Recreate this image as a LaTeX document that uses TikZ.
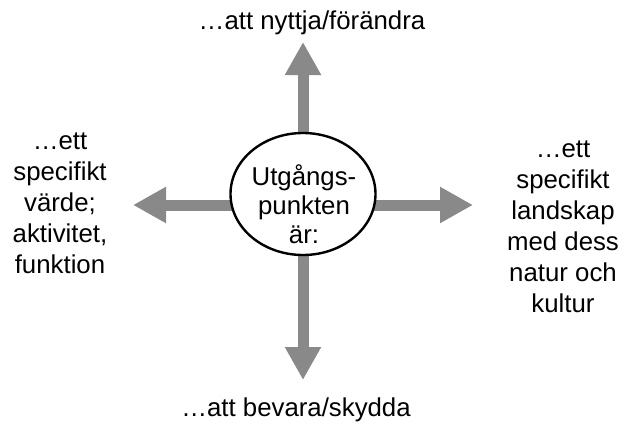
\documentclass[tikz,border=0pt]{standalone}
\usepackage{fontspec}
\setmainfont{Liberation Sans}
\usetikzlibrary{arrows.meta,shapes.geometric,backgrounds}
\definecolor{arrowgray}{RGB}{137,137,137}
\begin{document}
\begin{tikzpicture}[x=1pt,y=-1pt,
  lbl/.style={font=\fontsize{25.8}{31}\selectfont, align=center, inner sep=0pt, anchor=base},
  bigarrow/.style={draw=arrowgray, line width=11pt, -{Triangle[width=34pt,length=33pt]}}
]
\useasboundingbox (0,0) rectangle (624,423);
\node[ellipse, draw, line width=2.4pt, minimum width=145pt, minimum height=122pt, inner sep=0pt, fill=white] (c) at (303,194) {};
\node[lbl, font=\fontsize{25.8}{29}\selectfont] (ct) at (304,243) {Utgångs-\\punkten\\är:};
\coordinate (tt) at (303,42);
\coordinate (tb) at (303,380);
\coordinate (tr) at (473,205);
\coordinate (tl) at (133,205);
\begin{scope}[on background layer]
\draw[bigarrow] (c.center) -- (tt);
\draw[bigarrow] (c.center) -- (tb);
\draw[bigarrow] (c.center |- tr) -- (tr);
\draw[bigarrow] (c.center |- tl) -- (tl);
\end{scope}
\node[lbl] (top) at (312,29) {…att nyttja/förändra};
\node[lbl] (bot) at (296,416) {…att bevara/skydda};
\node[lbl] (lt) at (60,273) {…ett\\specifikt\\värde;\\aktivitet,\\funktion};
\node[lbl] (rt) at (563,312) {…ett\\specifikt\\landskap\\med dess\\natur och\\kultur};
\end{tikzpicture}
\end{document}
